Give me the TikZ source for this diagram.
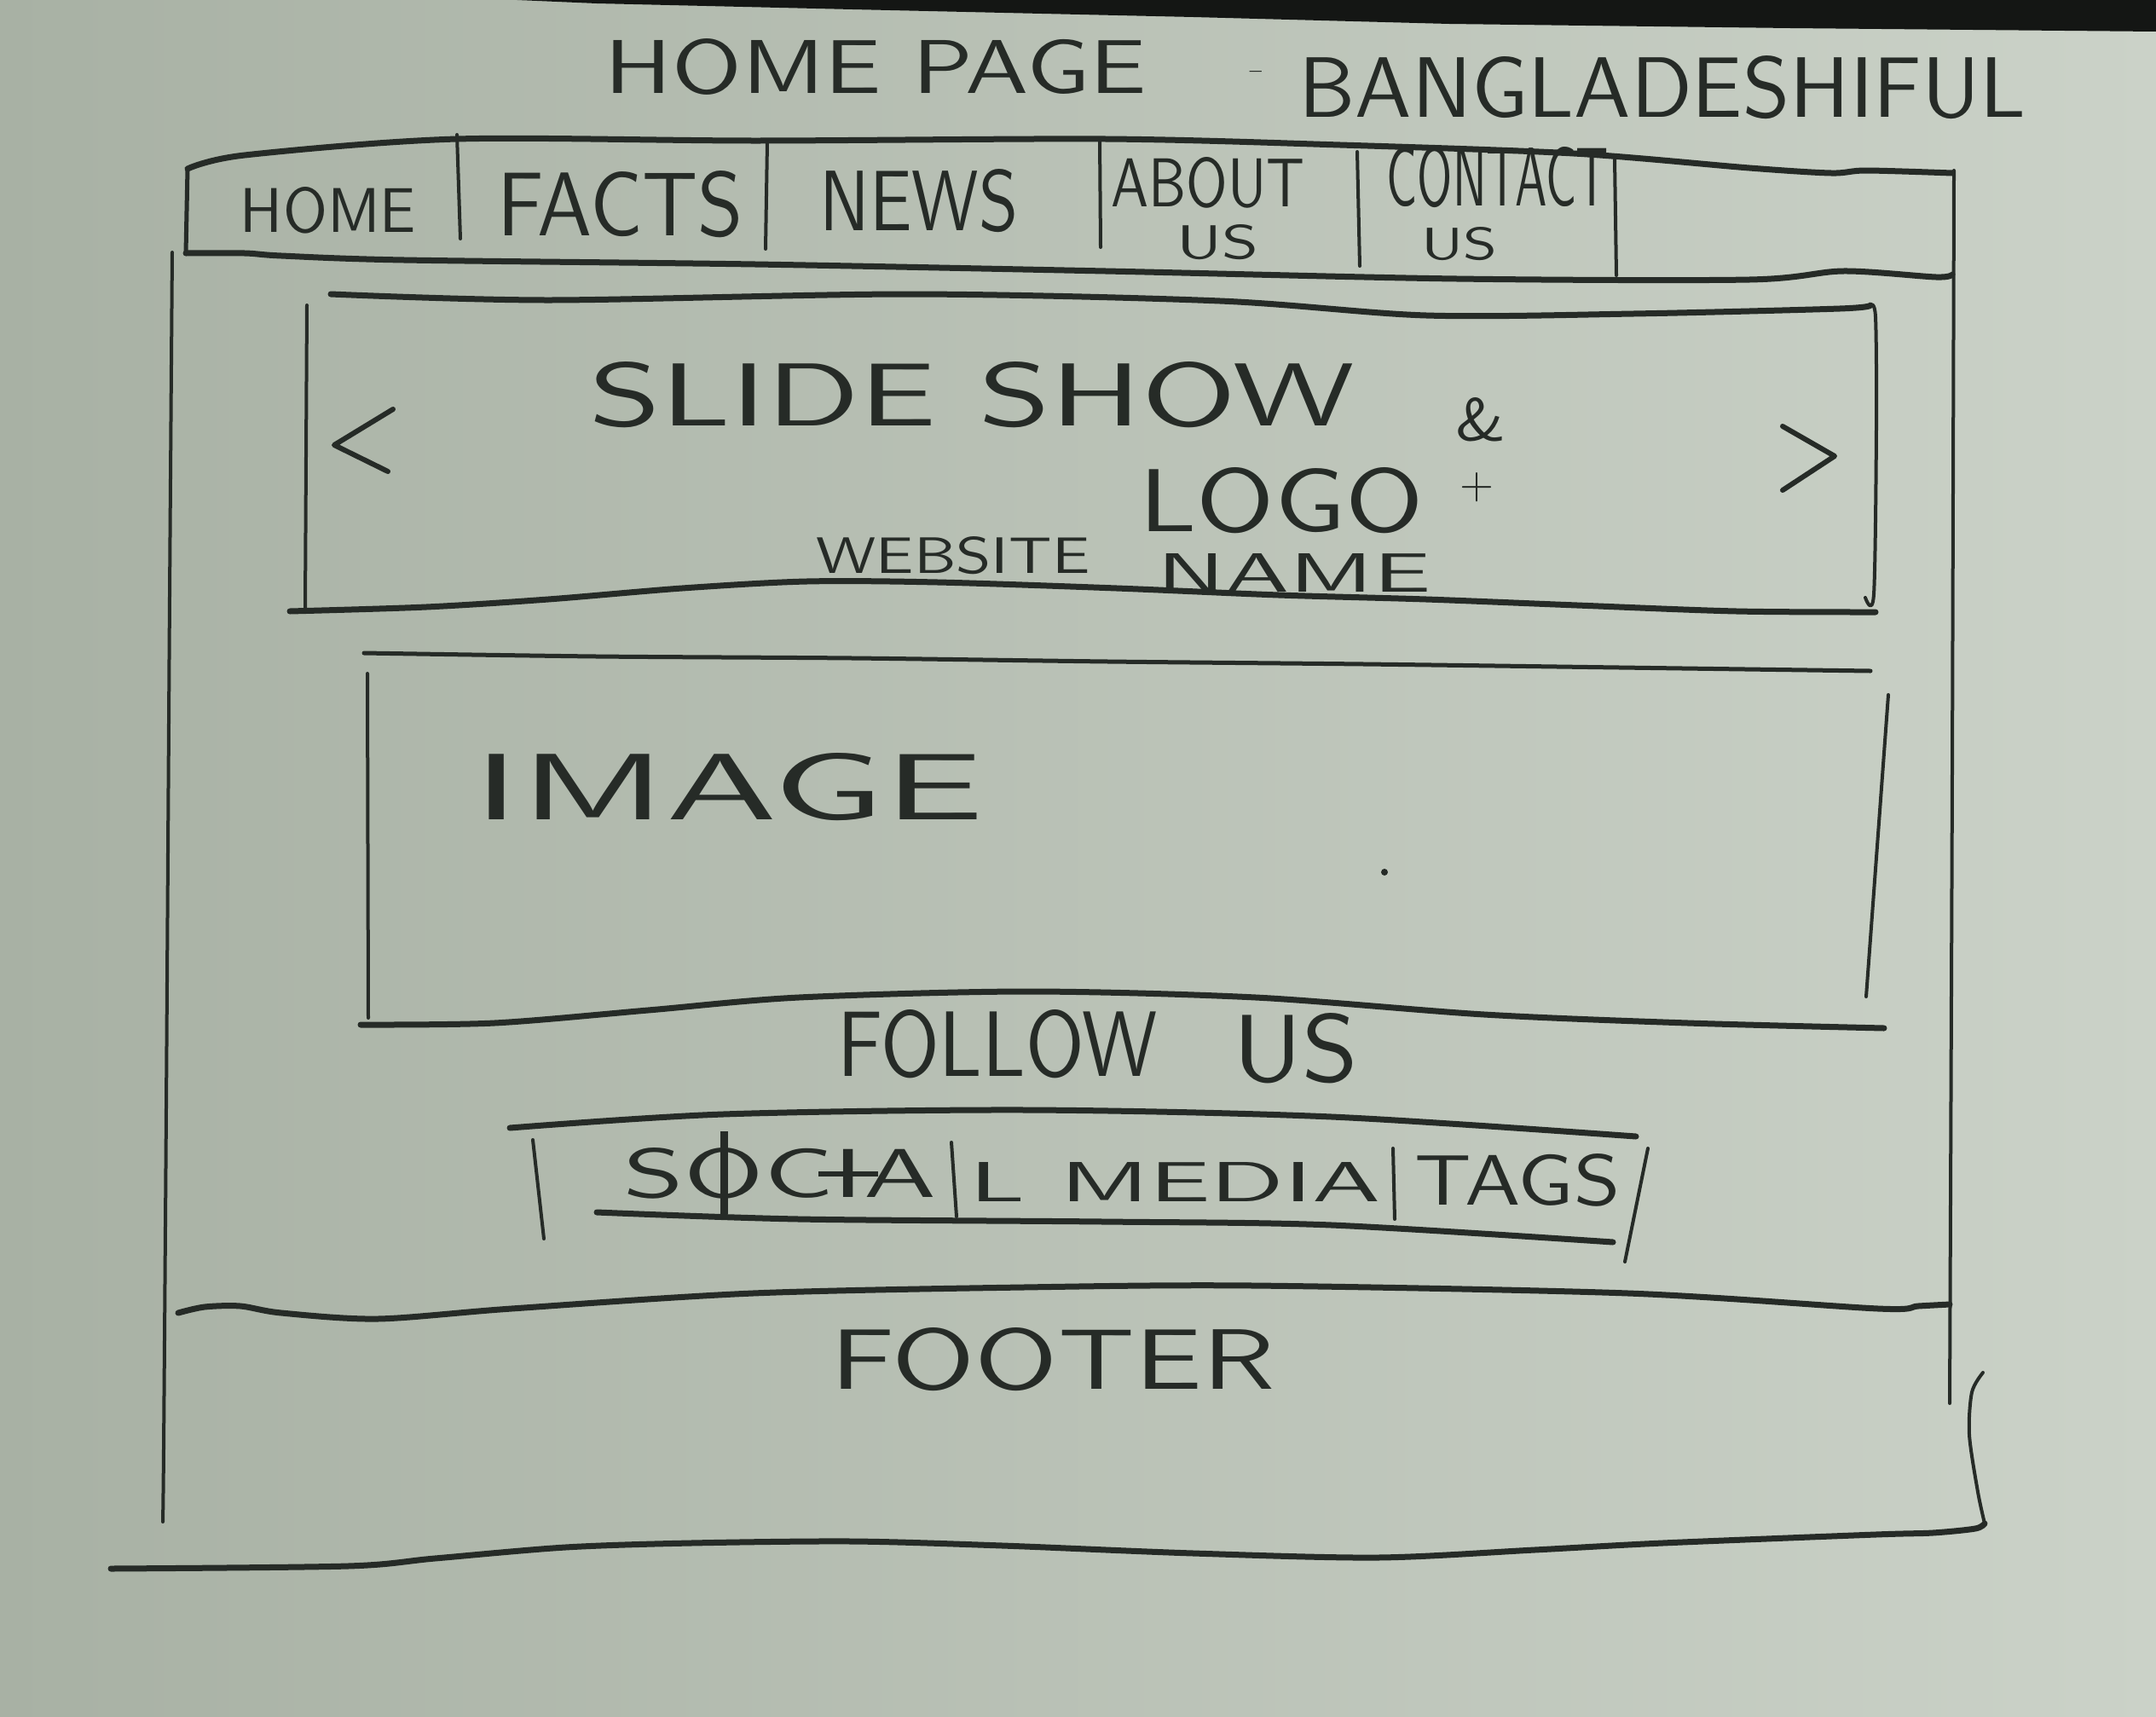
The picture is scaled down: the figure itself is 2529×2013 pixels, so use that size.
\documentclass[tikz,border=0pt]{standalone}
\usepackage{graphicx}

\definecolor{ink}{HTML}{262B27}
\definecolor{paperL}{HTML}{A8B1A4}
\definecolor{paperR}{HTML}{CBD2C8}
\definecolor{desk}{HTML}{141614}

% hand lettering: width, height (pt), text
\newcommand\hand[3]{\resizebox{#1pt}{#2pt}{\sffamily #3}}
% struck-through letters of the social media strip
\newcommand\slashO{\ooalign{O\cr\hidewidth\smash{\rule[-0.25em]{0.07em}{1.2em}}\hidewidth\cr}}
\newcommand\barI{\ooalign{I\cr\hidewidth\smash{\rule[0.3em]{0.55em}{0.07em}}\hidewidth\cr}}

\tikzset{
  pen/.style={draw=ink, line width=7pt, line cap=round, line join=round},
  thinpen/.style={draw=ink, line width=4pt, line cap=round, line join=round},
  lbl/.style={inner sep=0pt, outer sep=0pt, text=ink},
}

\begin{document}
\begin{tikzpicture}[x=1pt,y=-1pt]
\useasboundingbox (0,0) rectangle (2529,2013);

% paper and the dark desk edge above it
\shade[left color=paperL, right color=paperR] (0,0) rectangle (2529,2013);
\fill[desk] (560,-2) -- (700,4) -- (1000,11) -- (1400,20) -- (1700,28) -- (2100,33) -- (2529,37) -- (2529,-2) -- cycle;

% ---------- title ----------
\node[lbl] (title)  at (1027,78)  {\hand{635}{64}{HOME PAGE}};
\node[lbl] (dash)   at (1474,86)  {\hand{18}{5}{-}};
\node[lbl] (site)   at (1950,103) {\hand{853}{72}{BANGLADESHIFUL}};

% ---------- navigation bar ----------
\draw[pen] plot[smooth] coordinates {(220,198) (287,182) (536,163) (886,165) (1297,163) (1572,170) (1846,180) (2052,197) (2148,203) (2189,200) (2290,203)};
\draw[pen, line width=5pt] (220,198) -- (218,297);
\draw[pen] plot[smooth] coordinates {(218,297) (287,297) (330,300) (474,305) (886,310) (1297,318) (1709,327) (2052,328) (2162,318) (2271,325) (2290,322)};
\draw[thinpen] (536,158) -- (540,280);
\draw[thinpen] (900,167) -- (898,292);
\draw[thinpen] (1290,163) -- (1291,290);
\draw[thinpen] (1592,178) -- (1595,312);
\draw[thinpen] (1894,187) -- (1896,323);

\node[lbl] (home)    at (385,247)  {\hand{206}{53}{HOME}};
\node[lbl] (facts)   at (728,240)  {\hand{288}{76}{FACTS}};
\node[lbl] (news)    at (1078,236) {\hand{233}{72}{NEWS}};
\node[lbl] (about)   at (1417,214) {\hand{227}{58}{ABOUT}};
\node[lbl] (aboutus) at (1428,284) {\hand{96}{40}{US}};
\node[lbl] (contact) at (1757,208) {\hand{260}{70}{CONTACT}};
\node[lbl] (contus)  at (1712,286) {\hand{89}{38}{US}};

% ---------- page frame ----------
\draw[thinpen] plot[smooth] coordinates {(202,296) (199,700) (195,1300) (192,1700) (191,1785)};
\draw[thinpen] plot[smooth] coordinates {(2292,200) (2290,900) (2287,1646)};
\draw[thinpen] plot[smooth] coordinates {(2326,1610) (2313,1633) (2310,1683) (2320,1750) (2328,1787)};
\draw[pen] plot[smooth] coordinates {(2328,1787) (2317,1793) (2267,1798) (2200,1800) (1950,1810) (1800,1818) (1616,1827) (1400,1822) (1176,1813) (1000,1808) (810,1810) (663,1815) (510,1828) (408,1837) (130,1840)};

% ---------- slide show ----------
\draw[pen] plot[smooth] coordinates {(388,345) (643,352) (1067,345) (1431,353) (1673,370) (1916,368) (2158,362) (2194,358)};
\draw[thinpen] plot[smooth] coordinates {(2194,358) (2200,372) (2201,500) (2198,697) (2188,701)};
\draw[thinpen] (360,358) -- (358,713);
\draw[pen] plot[smooth] coordinates {(340,717) (500,712) (643,703) (800,690) (946,682) (1100,683) (1310,690) (1500,698) (1673,703) (1850,710) (2037,717) (2200,718)};
\draw[pen, line width=6pt] (461,480) -- (392,522) -- (455,553);
\draw[pen, line width=6pt] (2091,500) -- (2152,535) -- (2091,575);

\node[lbl] (slides)  at (1140,463) {\hand{897}{75}{SLIDE SHOW}};
\node[lbl] (amp)     at (1737,492) {\hand{59}{50}{\&}};
\node[lbl] (logo)    at (1503,587) {\hand{333}{75}{LOGO}};
\node[lbl] (plus)    at (1732,572) {\hand{40}{30}{+}};
\node[lbl] (website) at (1118,652) {\hand{321}{43}{WEBSITE}};
\node[lbl] (name)    at (1518,672) {\hand{321}{45}{NAME}};

% ---------- image ----------
\draw[pen, line width=5pt] plot[smooth] coordinates {(427,766) (700,770) (1000,772) (1300,776) (1600,779) (1900,783) (2194,787)};
\draw[thinpen] (431,790) -- (432,1194);
\draw[thinpen] (2215,815) -- (2189,1169);
\draw[pen] plot[smooth] coordinates {(423,1202) (580,1200) (760,1185) (937,1170) (1205,1163) (1473,1170) (1741,1190) (1980,1200) (2210,1206)};
\node[lbl] (image) at (855,923) {\hand{597}{78}{IMAGE}};
\fill[ink] (1624,1023) circle (4);

% ---------- follow us ----------
\node[lbl] (follow) at (1170,1225) {\hand{375}{78}{FOLLOW}};
\node[lbl] (us)     at (1520,1230) {\hand{147}{80}{US}};

\draw[pen] plot[smooth] coordinates {(598,1323) (848,1307) (1205,1302) (1562,1310) (1919,1333)};
\draw[thinpen] (625,1337) -- (638,1453);
\draw[thinpen] (1933,1347) -- (1906,1480);
\draw[pen] plot[smooth] coordinates {(700,1422) (937,1430) (1294,1433) (1562,1437) (1892,1457)};
\draw[thinpen] (1116,1340) -- (1122,1427);
\draw[thinpen] (1634,1347) -- (1636,1430);

\node[lbl] (social) at (915,1376)  {\hand{366}{58}{S\slashO C\barI A}};
\node[lbl] (media)  at (1379,1386) {\hand{482}{46}{L MEDIA}};
\node[lbl] (tags)   at (1780,1384) {\hand{241}{60}{TAGS}};

% ---------- footer ----------
\draw[pen] plot[smooth] coordinates {(209,1540) (240,1533) (282,1532) (330,1540) (443,1547) (600,1535) (883,1517) (1200,1510) (1470,1508) (1910,1517) (2203,1535) (2250,1532) (2287,1530)};
\node[lbl] (footer) at (1235,1595) {\hand{520}{72}{FOOTER}};

\end{tikzpicture}
\end{document}
